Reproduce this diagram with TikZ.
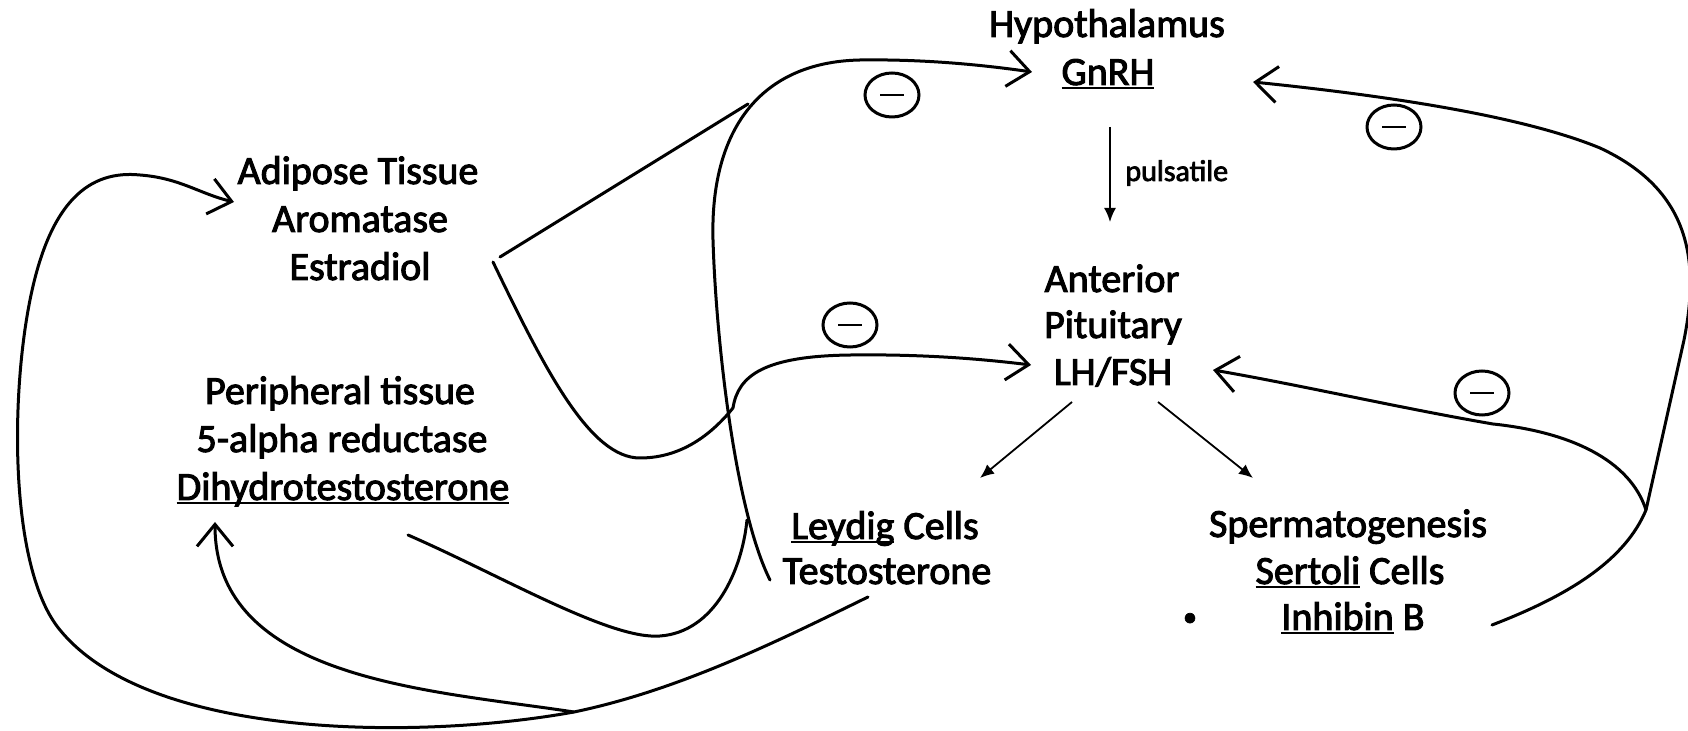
\documentclass[tikz,border=0pt]{standalone}
\usepackage{fontspec}
\setmainfont{Carlito}
\newfontfamily\bodyfont{Carlito}[FakeBold=2.5]
\usetikzlibrary{arrows.meta,shapes.geometric}
\newcommand\myul[1]{\setbox0\hbox{#1}\rlap{\rule[-2pt]{\wd0}{0.9pt}}\box0\relax}
\begin{document}
\begin{tikzpicture}[x=0.5pt,y=-0.5pt,
  lbl/.style={font=\bodyfont\fontsize{20}{24}\selectfont, anchor=base, inner sep=0pt},
  smalllbl/.style={font=\bodyfont\fontsize{15}{18}\selectfont, anchor=base west, inner sep=0pt},
  curve/.style={line width=1.5pt, line cap=round, line join=round},
  openarr/.style={-{Straight Barb[length=11pt,width=18pt,line width=1.5pt]}},
  thinarr/.style={line width=0.9pt, -{Latex[length=7pt,width=6pt]}},
  minus/.style={ellipse, draw, line width=1.5pt, minimum width=27pt, minimum height=22pt, inner sep=0pt,
    path picture={\draw[line width=1pt] ([xshift=-6pt]path picture bounding box.center) -- ([xshift=6pt]path picture bounding box.center);}}
]
\useasboundingbox (0,0) rectangle (1688,731);

% text
\node[lbl] (hyp) at (1107,37) {Hypothalamus};
\node[lbl] (gnrh) at (1108,85) {\myul{GnRH}};
\node[smalllbl] (puls) at (1125,181) {pulsatile};
\node[lbl] (ant) at (1112,292) {Anterior};
\node[lbl] (pit) at (1113,338) {Pituitary};
\node[lbl] (lhfsh) at (1113,385) {LH/FSH};
\node[lbl] (adi) at (358,184) {Adipose Tissue};
\node[lbl] (aro) at (360,232) {Aromatase};
\node[lbl] (est) at (360,280) {Estradiol};
\node[lbl] (per) at (340,404) {Peripheral tissue};
\node[lbl] (red) at (342,452) {5-alpha reductase};
\node[lbl] (dht) at (343,500) {\myul{Dihydrotestosterone}};
\node[lbl] (ley) at (885,539) {\myul{Leydig} Cells};
\node[lbl] (tes) at (887,584) {Testosterone};
\node[lbl] (spe) at (1348,537) {Spermatogenesis};
\node[lbl] (ser) at (1350,584) {\myul{Sertoli} Cells};
\node[lbl] (inh) at (1353,630) {\myul{Inhibin} B};
\node[lbl, font=\bodyfont\fontsize{14}{16}\selectfont] (bul) at (1190,626) {•};

% minus circles
\node[minus] (m1) at (892,95) {};
\node[minus] (m2) at (1394,127) {};
\node[minus] (m3) at (850,325) {};
\node[minus] (m4) at (1482,393) {};

% named end points
\coordinate (tesL) at (770,580);
\coordinate (tesB) at (868,597);
\coordinate (gnL) at (1032,72);
\coordinate (gnR) at (1253,82);
\coordinate (lhL) at (1031,365);
\coordinate (lhR) at (1213,370);
\coordinate (estA) at (500,257);
\coordinate (estB) at (493,262);
\coordinate (dhtR) at (408,535);
\coordinate (dhtTip) at (215,522);
\coordinate (adiTip) at (234,202);
\coordinate (jBot) at (574,712);
\coordinate (jMid) at (733,408);
\coordinate (jCross) at (747,520);
\coordinate (jRight) at (1646,510);
\coordinate (inhR) at (1492,625);

% thin arrows
\draw[thinarr] (1110,127) -- (1110,222);
\draw[thinarr] (1072,402) -- (980,478);
\draw[thinarr] (1158,402) -- (1253,478);

% Testosterone -> GnRH
\draw[curve,openarr] (tesL) .. controls (735,510) and (716,340) .. (713,240)
  .. controls (710,130) and (760,62) .. (860,60)
  .. controls (930,59) and (990,66) .. (gnL);
% Estradiol -> GnRH
\draw[curve] (estA) -- (748,104);
% Estradiol -> LH/FSH
\draw[curve] (estB) .. controls (545,370) and (590,458) .. (640,458)
  .. controls (685,458) and (715,430) .. (jMid);
% DHT -> LH/FSH
\draw[curve] (dhtR) .. controls (500,575) and (610,640) .. (660,636)
  .. controls (715,632) and (742,570) .. (jCross);
% junction -> LH/FSH
\draw[curve,openarr] (jMid) .. controls (738,375) and (765,356) .. (851,355)
  .. controls (930,354) and (990,360) .. (lhL);
% Testosterone -> Adipose
\draw[curve,openarr] (tesB) .. controls (780,640) and (680,690) .. (jBot)
  .. controls (420,740) and (150,740) .. (60,630)
  .. controls (10,570) and (10,400) .. (30,300)
  .. controls (50,200) and (90,170) .. (140,175)
  .. controls (180,178) and (200,194) .. (adiTip);
% Testosterone -> DHT
\draw[curve,openarr] (jBot) .. controls (430,690) and (215,680) .. (dhtTip);
% Inhibin -> GnRH
\draw[curve,openarr] (inhR) .. controls (1570,595) and (1625,560) .. (jRight)
  -- (1684,340) .. controls (1700,260) and (1690,190) .. (1600,148)
  .. controls (1520,115) and (1380,95) .. (gnR);
% Inhibin -> LH/FSH
\draw[curve,openarr] (jRight) .. controls (1630,460) and (1570,432) .. (1493,424)
  .. controls (1400,408) and (1300,385) .. (lhR);
\end{tikzpicture}
\end{document}
